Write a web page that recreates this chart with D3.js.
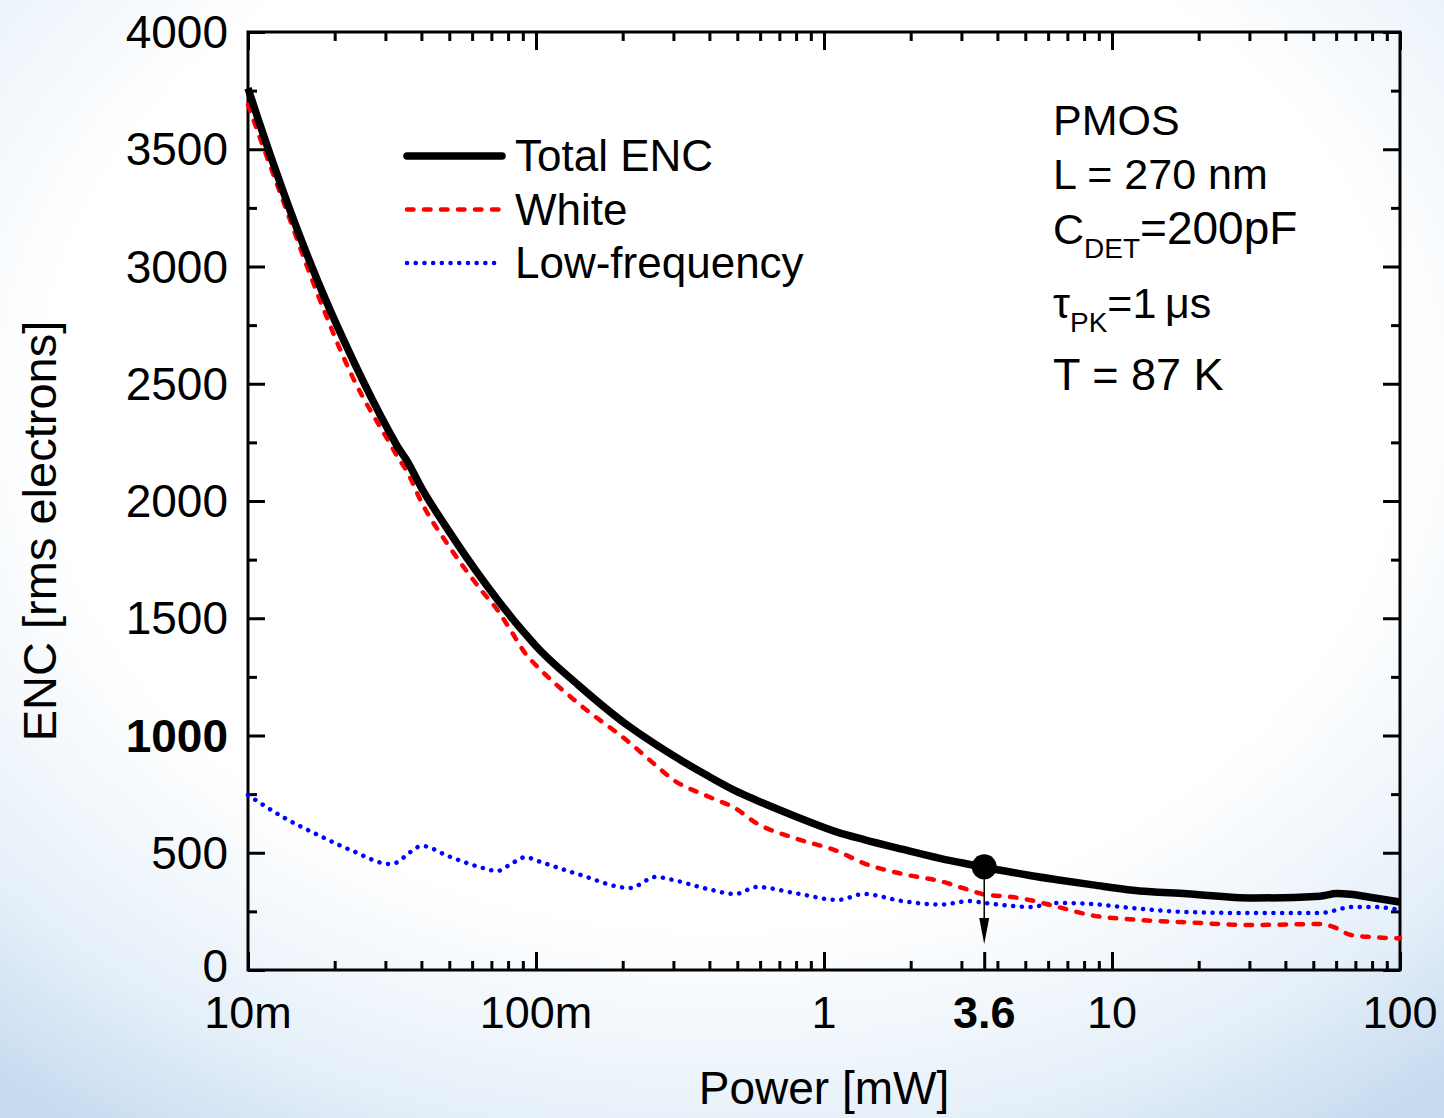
<!DOCTYPE html>
<html>
<head>
<meta charset="utf-8">
<script src="https://cdn.jsdelivr.net/npm/d3@7"></script>
<style>
  body { margin: 0; background: #fff; }
  svg { display: block; font-family: "Liberation Sans", Arial, sans-serif; }
</style>
</head>
<body>
<script>
// power in mW
var power = [0.01, 0.01075, 0.01323, 0.0175, 0.02315, 0.0311, 0.0332, 0.0355, 0.0402, 0.0495, 0.0655, 0.0732, 0.0825, 0.0923, 0.0992,
  0.140, 0.212, 0.261, 0.299, 0.396, 0.491, 0.585, 0.793, 1.118, 1.377, 1.866, 2.548, 3.21, 3.6, 4.53, 5.19, 6.44, 8.59,
  11.83, 18.2, 30.9, 52.7, 60.4, 67.1, 80.6, 100]
// ENC, rms electrons
var totalEnc = [3760, 3642, 3322, 2935, 2601, 2290, 2228, 2175, 2052, 1877, 1661, 1582, 1501, 1430, 1386,
  1216, 1036, 961, 915, 827, 765, 723, 656, 587, 556, 515, 475, 450, 438, 416, 403, 385, 363,
  340, 325, 307, 315, 326, 323, 308, 290]
var whiteEnc = [3690, 3583, 3281, 2878, 2525, 2245, 2184, 2130, 1990, 1813, 1610, 1538, 1440, 1346, 1304,
  1138, 968, 872, 812, 740, 690, 625, 562, 506, 455, 410, 378, 340, 322, 311, 298, 270, 232,
  215, 203, 192, 196, 178, 150, 140, 135]
var lowFreqEnc = [746, 721, 652, 576, 507, 452, 461, 490, 529, 486, 435, 422, 455, 482, 469,
  409, 350, 397, 384, 345, 324, 354, 328, 299, 324, 294, 279, 294, 286, 273, 269, 286, 281,
  264, 247, 243, 243, 256, 269, 269, 256]

var xMajor = [0.01, 0.1, 1, 10, 100]
var xMajorLabels = ['10m', '100m', '1', '10', '100']
var xMinor = []
for (var d = 0.01; d < 100; d *= 10) {
  for (var k = 2; k <= 9; k++) xMinor.push(+(d * k).toPrecision(3))
}
var yMajor = [0, 500, 1000, 1500, 2000, 2500, 3000, 3500, 4000]
var yMinor = [250, 750, 1250, 1750, 2250, 2750, 3250, 3750]
var markPower = 3.6
var markEnc = 440

var legendItems = ['Total ENC', 'White', 'Low-frequency']

var W = 1444, H = 1118
var svg = d3.select('body').append('svg').attr('width', W).attr('height', H)

// slide background
var defs = svg.append('defs')
var rg = defs.append('radialGradient').attr('id', 'bg')
  .attr('cx', '0.5').attr('cy', '0.36').attr('r', '0.78')
rg.append('stop').attr('offset', '0.6').attr('stop-color', '#ffffff')
rg.append('stop').attr('offset', '0.84').attr('stop-color', '#e6f0f9')
rg.append('stop').attr('offset', '1').attr('stop-color', '#c8dcf0')
svg.append('rect').attr('width', W).attr('height', H).attr('fill', 'url(#bg)')

var x = d3.scaleLog().domain([0.01, 100]).range([248, 1400])
var y = d3.scaleLinear().domain([0, 4000]).range([970, 32])

// ticks, all pointing inward
function tickAxis(axis, vals, size, tr) {
  svg.append('g').attr('transform', tr)
    .call(axis.tickValues(vals).tickSize(size).tickFormat(''))
    .call(function(g){
      g.select('.domain').remove()
      g.selectAll('line').attr('stroke', '#000').attr('stroke-width', 3)
    })
}
tickAxis(d3.axisBottom(x), xMajor.concat([markPower]), -18, 'translate(0,970)')
tickAxis(d3.axisBottom(x), xMinor, -9, 'translate(0,970)')
tickAxis(d3.axisTop(x), xMajor, -18, 'translate(0,32)')
tickAxis(d3.axisTop(x), xMinor, -9, 'translate(0,32)')
tickAxis(d3.axisLeft(y), yMajor, -17, 'translate(248,0)')
tickAxis(d3.axisLeft(y), yMinor, -9, 'translate(248,0)')
tickAxis(d3.axisRight(y), yMajor, -17, 'translate(1400,0)')
tickAxis(d3.axisRight(y), yMinor, -9, 'translate(1400,0)')

svg.append('rect').attr('x', 248).attr('y', 32).attr('width', 1152).attr('height', 938)
  .attr('fill', 'none').attr('stroke', '#000').attr('stroke-width', 3)

// tick labels
svg.append('g').selectAll('text').data(yMajor).join('text')
  .attr('x', 228).attr('y', function(v){ return y(v) + (v === 0 ? 12 : 16) })
  .attr('text-anchor', 'end').attr('font-size', 46)
  .attr('font-weight', function(v){ return v === 1000 ? 'bold' : 'normal' })
  .text(function(v){ return v })
svg.append('g').selectAll('text').data(xMajor).join('text')
  .attr('x', function(v){ return x(v) }).attr('y', 1028)
  .attr('text-anchor', 'middle').attr('font-size', 45)
  .text(function(v, i){ return xMajorLabels[i] })
svg.append('text').attr('x', x(markPower)).attr('y', 1028).attr('text-anchor', 'middle')
  .attr('font-size', 45).attr('font-weight', 'bold').text('3.6')

svg.append('text').attr('x', 824).attr('y', 1104).attr('text-anchor', 'middle')
  .attr('font-size', 46).text('Power [mW]')
svg.append('text').attr('transform', 'translate(56,531) rotate(-90)').attr('text-anchor', 'middle')
  .attr('font-size', 47).text('ENC [rms electrons]')

// curves
function series(vals) {
  return power.map(function(p, i){ return [p, vals[i]] })
}
var line = d3.line().x(function(d){ return x(d[0]) }).y(function(d){ return y(d[1]) })
  .curve(d3.curveMonotoneX)

svg.append('path').datum(series(lowFreqEnc)).attr('d', line).attr('fill', 'none')
  .attr('stroke', '#0000ff').attr('stroke-width', 4.5).attr('stroke-linecap', 'round')
  .attr('stroke-dasharray', '0.1 8.6')
svg.append('path').datum(series(whiteEnc)).attr('d', line).attr('fill', 'none')
  .attr('stroke', '#ff0000').attr('stroke-width', 4.5).attr('stroke-linecap', 'round')
  .attr('stroke-dasharray', '6.5 10.5')
svg.append('path').datum(series(totalEnc)).attr('d', line).attr('fill', 'none')
  .attr('stroke', '#000').attr('stroke-width', 7.5)

// operating point
svg.append('circle').attr('cx', x(markPower)).attr('cy', y(markEnc)).attr('r', 12.5).attr('fill', '#000')
svg.append('line').attr('x1', x(markPower)).attr('x2', x(markPower))
  .attr('y1', y(markEnc)).attr('y2', 925).attr('stroke', '#000').attr('stroke-width', 1.5)
svg.append('path')
  .attr('d', 'M' + (x(markPower) - 5) + ',918 L' + (x(markPower) + 5) + ',918 L' + x(markPower) + ',944 Z')
  .attr('fill', '#000')

// legend
var lg = svg.append('g')
var sampleStyle = [
  { stroke: '#000', w: 7.5, dash: null },
  { stroke: '#ff0000', w: 4.5, dash: '6.5 10.5' },
  { stroke: '#0000ff', w: 4.5, dash: '0.1 8.6' }
]
legendItems.forEach(function(name, i){
  var yy = 156 + i * 53.5
  lg.append('line').attr('x1', 407).attr('x2', 502).attr('y1', yy).attr('y2', yy)
    .attr('stroke', sampleStyle[i].stroke).attr('stroke-width', sampleStyle[i].w)
    .attr('stroke-linecap', 'round').attr('stroke-dasharray', sampleStyle[i].dash)
  lg.append('text').attr('x', 515).attr('y', yy + 15).attr('font-size', 44).text(name)
})

// parameter block
var info = svg.append('g').attr('font-size', 43)
info.append('text').attr('x', 1053).attr('y', 135).text('PMOS')
info.append('text').attr('x', 1053).attr('y', 189).text('L = 270 nm')
var c = info.append('text').attr('x', 1053).attr('y', 244)
c.append('tspan').text('C')
c.append('tspan').attr('font-size', 28).attr('dy', 14).text('DET')
c.append('tspan').attr('dy', -14).attr('font-size', 46).text('=200pF')
var t = info.append('text').attr('x', 1053).attr('y', 318)
t.append('tspan').text('\u03c4')
t.append('tspan').attr('font-size', 28).attr('dy', 14).text('PK')
t.append('tspan').attr('dy', -14).text('=1\u2009\u03bcs')
info.append('text').attr('x', 1053).attr('y', 390).attr('font-size', 45).text('T = 87 K')
</script>
</body>
</html>
